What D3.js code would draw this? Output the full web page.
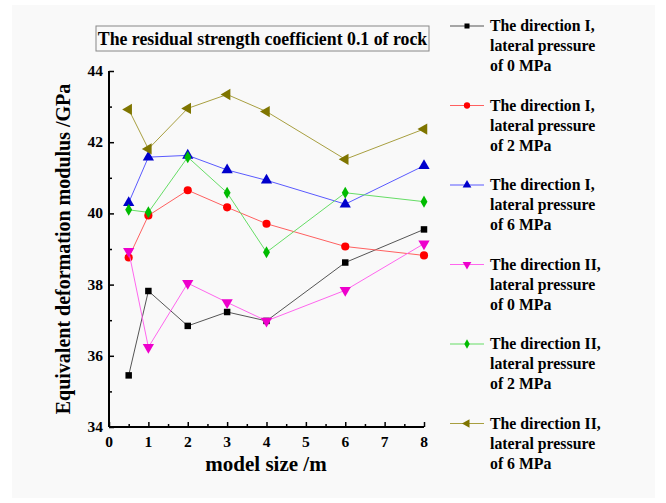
<!DOCTYPE html>
<html>
<head>
<meta charset="utf-8">
<script src="https://cdn.jsdelivr.net/npm/d3@7"></script>
<style>
  body { margin: 0; background: #fff; }
  text { font-family: "Liberation Serif", "Times New Roman", serif; font-weight: bold; fill: #000; }
</style>
</head>
<body>
<div id="chart"></div>
<script>
// model sizes (m)
const sizes = [0.5, 1, 2, 3, 4, 6, 8];

// equivalent deformation modulus (GPa)
const dirI_p0  = [35.45, 37.82, 36.84, 37.23, 36.98, 38.62, 39.55];
const dirI_p2  = [38.76, 39.94, 40.65, 40.17, 39.71, 39.07, 38.82];
const dirI_p6  = [40.30, 41.58, 41.63, 41.22, 40.93, 40.26, 41.34];
const dirII_p0 = [38.94, 36.24, 38.04, 37.50, 36.98, 37.84, 39.15];
const dirII_p2 = [40.10, 40.03, 41.58, 40.58, 38.91, 40.58, 40.33];
const dirII_p6 = [42.92, 41.81, 42.95, 43.34, 42.86, 41.52, 42.37];

const seriesNames = [
  ["The direction I,", "lateral pressure", "of 0 MPa"],
  ["The direction I,", "lateral pressure", "of 2 MPa"],
  ["The direction I,", "lateral pressure", "of 6 MPa"],
  ["The direction II,", "lateral pressure", "of 0 MPa"],
  ["The direction II,", "lateral pressure", "of 2 MPa"],
  ["The direction II,", "lateral pressure", "of 6 MPa"]
];
const xTicks = [0, 1, 2, 3, 4, 5, 6, 7, 8];
const yTicks = [34, 36, 38, 40, 42, 44];
const titleText = "The residual strength coefficient 0.1 of rock";

const width = 666, height = 503;
const margin = {left: 109, right: 242, top: 71, bottom: 76};

const series = [
  {values: dirI_p0,  color: "#000000", line: "#555555", symbol: d3.symbolSquare,   size: 42, rot: 0},
  {values: dirI_p2,  color: "#ff0000", line: "#ff6060", symbol: d3.symbolCircle,   size: 52, rot: 0},
  {values: dirI_p6,  color: "#0000cc", line: "#5a5aff", symbol: d3.symbolTriangle, size: 55, rot: 0},
  {values: dirII_p0, color: "#ee00cc", line: "#ff66ee", symbol: d3.symbolTriangle, size: 55, rot: 180},
  {values: dirII_p2, color: "#00bb00", line: "#66dd66", symbol: d3.symbolDiamond,  size: 42, rot: 0},
  {values: dirII_p6, color: "#7f7500", line: "#a89f40", symbol: d3.symbolTriangle, size: 55, rot: 270}
];

const svg = d3.select("#chart").append("svg")
  .attr("width", width)
  .attr("height", height);

svg.append("rect")
  .attr("x", 12).attr("y", 5)
  .attr("width", 643).attr("height", 493)
  .attr("fill", "#f9f9f9");

const x = d3.scaleLinear().domain([0, 8]).range([margin.left, width - margin.right]);
const y = d3.scaleLinear().domain([34, 44]).range([height - margin.bottom, margin.top]);

// axes with inward ticks
const xAxis = svg.append("g")
  .attr("transform", "translate(0," + y(34) + ")")
  .call(d3.axisBottom(x).tickValues(d3.range(0, 8.01, 0.5)).tickSize(-3).tickFormat(""));
xAxis.selectAll(".tick line").filter(d => d % 1 === 0).attr("y2", -5);
xAxis.select(".domain").attr("stroke-width", 2).attr("d", "M" + x(0) + ",0H" + x(8));
xAxis.selectAll(".tick line").attr("stroke-width", 1.5);

const yAxis = svg.append("g")
  .attr("transform", "translate(" + x(0) + ",0)")
  .call(d3.axisLeft(y).tickValues(d3.range(34, 44.01, 1)).tickSize(-3).tickFormat(""));
yAxis.selectAll(".tick line").filter(d => d % 2 === 0).attr("x2", 5);
yAxis.select(".domain").attr("stroke-width", 2).attr("d", "M0," + y(34) + "V" + y(44));
yAxis.selectAll(".tick line").attr("stroke-width", 1.5);

svg.append("g").selectAll("text")
  .data(xTicks).enter().append("text")
  .attr("x", d => x(d))
  .attr("y", y(34) + 20)
  .attr("text-anchor", "middle")
  .style("font-size", "15.5px")
  .text(d => d);

svg.append("g").selectAll("text")
  .data(yTicks).enter().append("text")
  .attr("x", x(0) - 6)
  .attr("y", d => y(d) + 5)
  .attr("text-anchor", "end")
  .style("font-size", "15.5px")
  .text(d => d);

svg.append("text")
  .attr("x", 266)
  .attr("y", 471)
  .attr("text-anchor", "middle")
  .style("font-size", "21px")
  .text("model size /m");

svg.append("text")
  .attr("transform", "translate(70," + (y(34) + y(44)) / 2 + ") rotate(-90)")
  .attr("text-anchor", "middle")
  .style("font-size", "20px")
  .text("Equivalent deformation modulus /GPa");

// title box
svg.append("rect")
  .attr("x", 96).attr("y", 26)
  .attr("width", 333).attr("height", 25)
  .attr("fill", "none")
  .attr("stroke", "#888")
  .attr("stroke-width", 1);
svg.append("text")
  .attr("x", 262.5)
  .attr("y", 44.5)
  .attr("text-anchor", "middle")
  .style("font-size", "17.8px")
  .text(titleText);

// series
const line = d3.line().x((d, i) => x(sizes[i])).y(d => y(d));

series.forEach(function(s) {
  const g = svg.append("g");
  g.append("path")
    .datum(s.values)
    .attr("d", line)
    .attr("fill", "none")
    .attr("stroke", s.line)
    .attr("stroke-width", 1);
  g.selectAll("path.pt")
    .data(s.values).enter().append("path")
    .attr("class", "pt")
    .attr("d", d3.symbol().type(s.symbol).size(s.size))
    .attr("transform", (d, i) => "translate(" + x(sizes[i]) + "," + y(d) + ") rotate(" + s.rot + ")")
    .attr("fill", s.color);
});

// legend
const legend = svg.append("g");
series.forEach(function(s, k) {
  const ly = 26 + k * 79.5;
  legend.append("line")
    .attr("x1", 450).attr("x2", 484)
    .attr("y1", ly).attr("y2", ly)
    .attr("stroke", s.line)
    .attr("stroke-width", 1.2);
  legend.append("path")
    .attr("d", d3.symbol().type(s.symbol).size(s.size * 0.6))
    .attr("transform", "translate(467," + ly + ") rotate(" + s.rot + ")")
    .attr("fill", s.color);
  seriesNames[k].forEach(function(t, j) {
    legend.append("text")
      .attr("x", 490)
      .attr("y", ly + 5 + j * 20)
      .style("font-size", "15.8px")
      .text(t);
  });
});
</script>
</body>
</html>
